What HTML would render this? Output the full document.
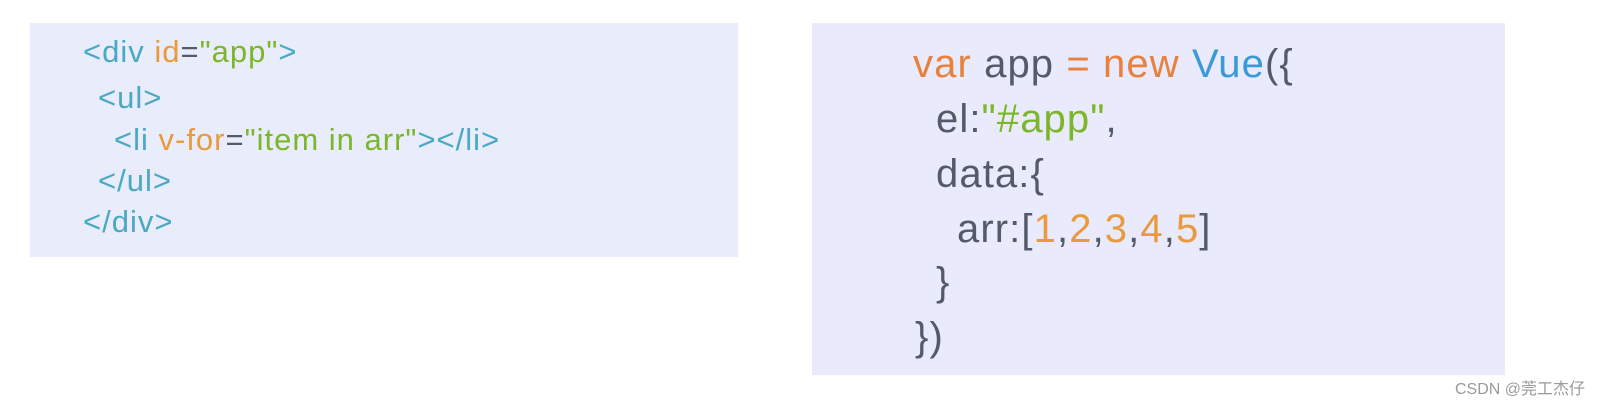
<!DOCTYPE html>
<html><head><meta charset="utf-8"><style>
body{margin:0;width:1622px;height:418px;background:#fff;position:relative;overflow:hidden;font-family:"Liberation Sans","Noto Sans CJK SC",sans-serif;}
.box{position:absolute;background:#e9ecfb;}
.l{position:absolute;white-space:pre;}
.L .l{font-size:31px;letter-spacing:1px;line-height:40px;}
.R .l{font-size:40px;letter-spacing:1.1px;line-height:50px;}
.t{color:#4aa9c2}.o{color:#e99a3c}.g{color:#7cb62a}.k{color:#555a68}.b{color:#3a9ad8}.v{color:#e8803e}
</style></head><body>
<div class="box" style="left:30px;top:23px;width:708px;height:234px;"></div>
<div class="box" style="left:812px;top:23px;width:693px;height:352px;background:#e9eafb;"></div>
<div class="L">
<div class="l" style="left:83px;top:32px"><span class="t">&lt;div </span><span class="o">id</span><span class="k">=</span><span class="g">"app"</span><span class="t">&gt;</span></div>
<div class="l" style="left:98px;top:78px"><span class="t">&lt;ul&gt;</span></div>
<div class="l" style="left:114px;top:120px"><span class="t">&lt;li </span><span class="o">v-for</span><span class="k">=</span><span class="g">"item in arr"</span><span class="t">&gt;&lt;/li&gt;</span></div>
<div class="l" style="left:98px;top:161px"><span class="t">&lt;/ul&gt;</span></div>
<div class="l" style="left:83px;top:202px"><span class="t">&lt;/div&gt;</span></div>
</div>
<div class="R">
<div class="l" style="left:913px;top:39px"><span class="v">var </span><span class="k">app </span><span class="v">= new </span><span class="b">Vue</span><span class="k">({</span></div>
<div class="l" style="left:936px;top:94px"><span class="k">el:</span><span class="g">"#app"</span><span class="k">,</span></div>
<div class="l" style="left:936px;top:149px"><span class="k">data:{</span></div>
<div class="l" style="left:957px;top:204px"><span class="k">arr:[</span><span class="o">1</span><span class="k">,</span><span class="o">2</span><span class="k">,</span><span class="o">3</span><span class="k">,</span><span class="o">4</span><span class="k">,</span><span class="o">5</span><span class="k">]</span></div>
<div class="l" style="left:936px;top:257px"><span class="k">}</span></div>
<div class="l" style="left:915px;top:312px"><span class="k">})</span></div>
</div>
<div style="position:absolute;left:1455px;top:379px;font-size:16px;line-height:22px;color:#9a9a9a;white-space:nowrap;">CSDN @莞工杰仔</div>
</body></html>
